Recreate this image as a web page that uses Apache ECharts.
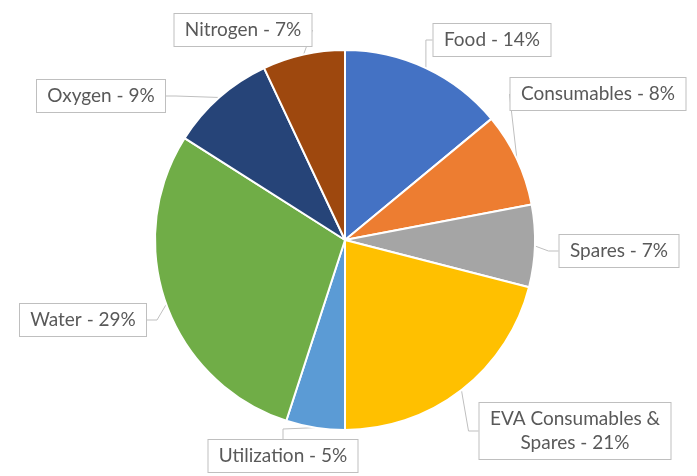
<!DOCTYPE html>
<html>
<head>
<meta charset="utf-8">
<script src="https://cdn.jsdelivr.net/npm/echarts@6/dist/echarts.min.js"></script>
<style>
  html, body { margin: 0; padding: 0; background: #ffffff; }
  #chart { width: 697px; height: 476px; }
</style>
</head>
<body>
<div id="chart"></div>
<script>
// categories and shares (percent), clockwise from 12 o'clock
var categories = ['Food', 'Consumables', 'Spares', 'EVA Consumables & Spares',
                  'Utilization', 'Water', 'Oxygen', 'Nitrogen'];
var shares = [14, 8, 7, 21, 5, 29, 9, 7];

// Excel office palette
var colors = ['#4472C4', '#ED7D31', '#A5A5A5', '#FFC000',
              '#5B9BD5', '#70AD47', '#264478', '#9E480E'];

// callout box centres (pixel), same order as categories
var boxCentres = [
  [492, 40], [598, 94], [619, 251], [575, 431],
  [283, 456], [83, 320], [101, 96], [243, 30]
];

var FONT = '19px Lato';

function labelText(name, pct) {
  return name.replace(' & ', ' &\n') + ' - ' + pct + '%';
}

// measure label text so pie layout does not squeeze the box near the edge
var ctx = document.createElement('canvas').getContext('2d');
ctx.font = FONT;
function textWidth(s) {
  return Math.max.apply(null, s.split('\n').map(function (l) {
    return Math.ceil(ctx.measureText(l).width);
  }));
}

var total = shares.reduce(function (a, b) { return a + b; }, 0);

var chart = echarts.init(document.getElementById('chart'));

var option = {
  animation: false,
  series: [{
    type: 'pie',
    center: [345, 240],
    radius: 190,
    startAngle: 90,
    clockwise: true,
    data: categories.map(function (c, i) {
      var txt = labelText(c, Math.round(shares[i] / total * 100));
      return {
        name: c,
        value: shares[i],
        itemStyle: { color: colors[i] },
        label: { width: textWidth(txt) + 2 }
      };
    }),
    itemStyle: { borderColor: '#ffffff', borderWidth: 2 },
    label: {
      show: true,
      position: 'outside',
      formatter: function (p) {
        return labelText(p.name, Math.round(p.percent));
      },
      fontFamily: 'Lato',
      fontSize: 19,
      lineHeight: 24,
      color: '#595959',
      backgroundColor: '#ffffff',
      borderColor: '#BFBFBF',
      borderWidth: 1,
      padding: [4, 9],
      align: 'center',
      overflow: 'none'
    },
    labelLine: {
      show: true,
      length: 10,
      length2: 10,
      lineStyle: { color: '#BFBFBF', width: 1 }
    },
    labelLayout: function (params) {
      var c = boxCentres[params.dataIndex];
      return { x: c[0], y: c[1], align: 'center', verticalAlign: 'middle' };
    },
    emphasis: { disabled: true }
  }]
};

chart.setOption(option);
</script>
</body>
</html>
